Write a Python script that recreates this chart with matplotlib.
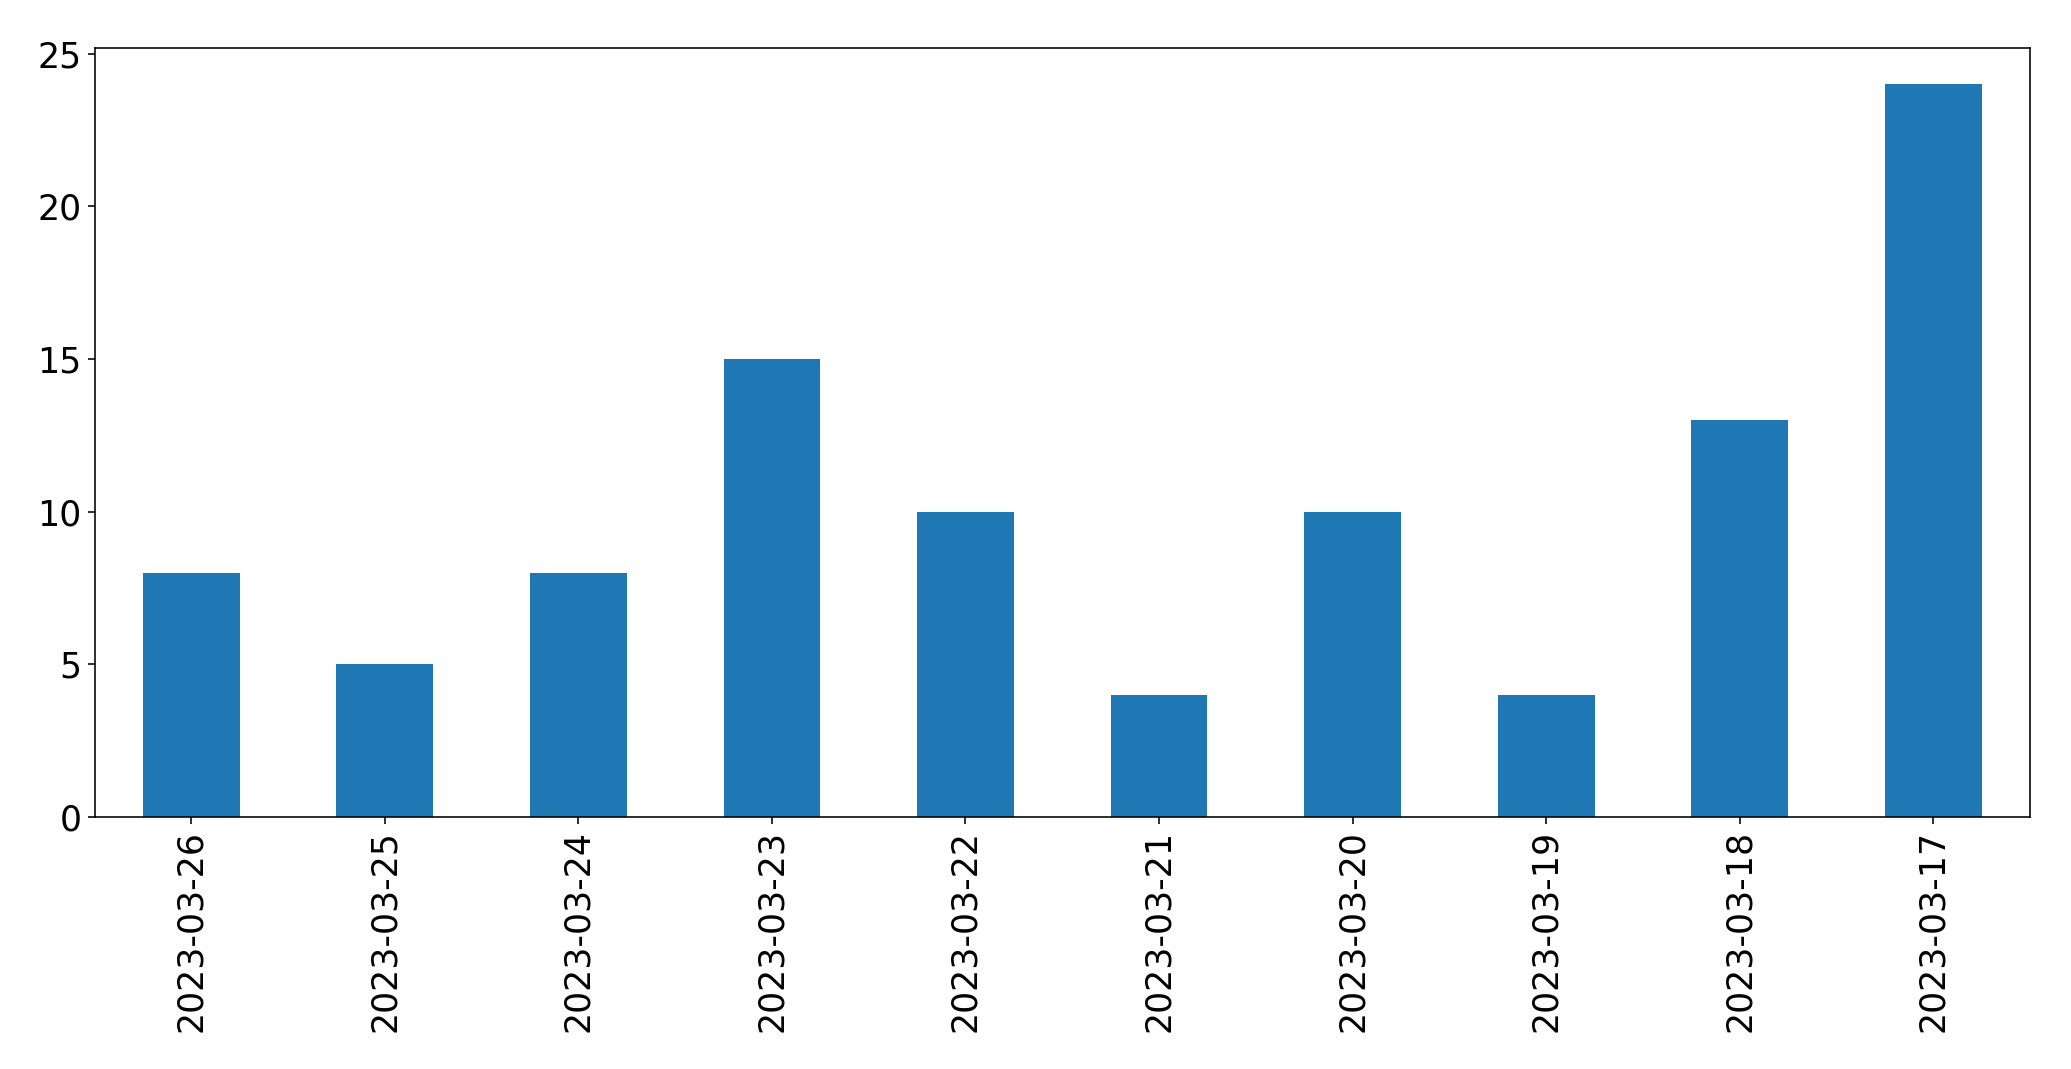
import matplotlib
matplotlib.use("Agg")
import matplotlib.pyplot as plt

dates = ["2023-03-26", "2023-03-25", "2023-03-24", "2023-03-23", "2023-03-22",
         "2023-03-21", "2023-03-20", "2023-03-19", "2023-03-18", "2023-03-17"]
counts = [8, 5, 8, 15, 10, 4, 10, 4, 13, 24]

W, H = 2071, 1069
fig = plt.figure(figsize=(W / 100, H / 100), dpi=100)
left, right, top, bottom = 94.5, 2030, 47.7, 817
ax = fig.add_axes([left / W, 1 - bottom / H, (right - left) / W, (bottom - top) / H])

x = list(range(len(dates)))
ax.bar(x, counts, width=0.5, color="#1f77b4")
ax.set_xlim(-0.5, len(dates) - 0.5)
ax.set_ylim(0, max(counts) * 1.05)
ax.set_xticks(x)
ax.set_xticklabels(dates, rotation=90)
ax.set_yticks([0, 5, 10, 15, 20, 25])
ax.tick_params(axis="both", labelsize=25, length=5, width=1.15, pad=4.5)
for s in ax.spines.values():
    s.set_linewidth(1.15)

fig.savefig("out.png", dpi=100)
